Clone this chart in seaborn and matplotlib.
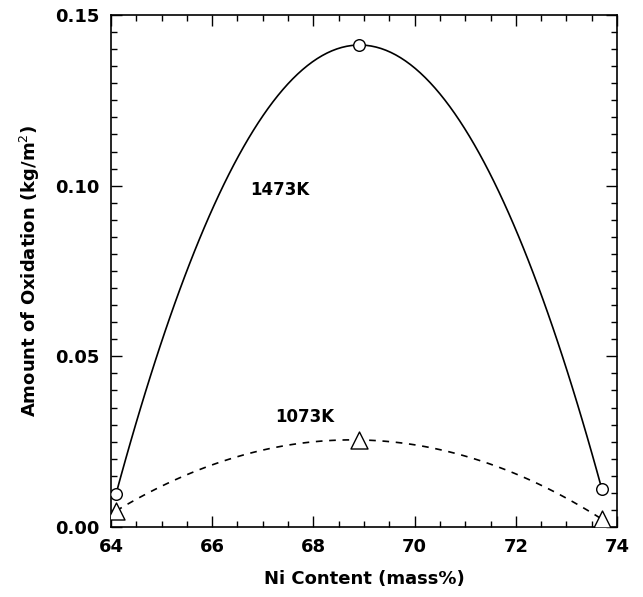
import numpy as np
import pandas as pd
import matplotlib
matplotlib.use("Agg")
import matplotlib.pyplot as plt
import seaborn as sns
from matplotlib.ticker import MultipleLocator, FormatStrFormatter

# data
ni_content = [64.1, 68.9, 73.7]
ox_1473 = [0.0097, 0.1412, 0.0111]
ox_1073 = [0.0047, 0.0255, 0.0023]

df = pd.DataFrame({"ni": ni_content, "k1473": ox_1473, "k1073": ox_1073})

sns.set_style("ticks")
plt.rcParams["font.family"] = ["DejaVu Sans"]
plt.rcParams["text.color"] = "black"
plt.rcParams["axes.labelcolor"] = "black"
plt.rcParams["axes.edgecolor"] = "black"
plt.rcParams["xtick.color"] = "black"
plt.rcParams["ytick.color"] = "black"

fig = plt.figure(figsize=(6.43, 5.97), dpi=100)
ax = fig.add_axes([0.1726, 0.1173, 0.787, 0.8576])

# smooth curves (quadratic through the three points)
sns.regplot(data=df, x="ni", y="k1473", order=2, ci=None, scatter=False, ax=ax,
            line_kws={"color": "black", "linewidth": 1.2})
sns.regplot(data=df, x="ni", y="k1073", order=2, ci=None, scatter=False, ax=ax,
            line_kws={"color": "black", "linewidth": 1.2, "linestyle": (0, (4, 4))})

# markers
sns.scatterplot(data=df, x="ni", y="k1473", marker="o", s=70, facecolor="white",
                edgecolor="black", linewidth=1.0, ax=ax, zorder=5)
sns.scatterplot(data=df, x="ni", y="k1073", marker="^", s=150, facecolor="white",
                edgecolor="black", linewidth=1.0, ax=ax, zorder=5)

ax.text(67.34, 0.0987, "1473K", ha="center", va="center", fontsize=12, fontweight="bold")
ax.text(67.83, 0.0322, "1073K", ha="center", va="center", fontsize=12, fontweight="bold")

ax.set_xlim(64, 74)
ax.set_ylim(0, 0.15)
ax.xaxis.set_major_locator(MultipleLocator(2))
ax.xaxis.set_minor_locator(MultipleLocator(0.5))
ax.yaxis.set_major_locator(MultipleLocator(0.05))
ax.yaxis.set_minor_locator(MultipleLocator(0.005))
ax.yaxis.set_major_formatter(FormatStrFormatter("%.2f"))

ax.tick_params(which="both", direction="in", top=True, right=True, width=1.0)
ax.tick_params(which="major", length=8, labelsize=13, pad=8)
ax.tick_params(which="minor", length=4)
for lab in ax.get_xticklabels() + ax.get_yticklabels():
    lab.set_fontweight("bold")
for sp in ax.spines.values():
    sp.set_linewidth(1.2)
    sp.set_visible(True)

ax.set_xlabel("Ni Content (mass%)", fontsize=13, fontweight="bold", labelpad=10)
ax.set_ylabel("Amount of Oxidation (kg/m$^{2}$)", fontsize=13, fontweight="bold", labelpad=10)

fig.savefig("out.png", dpi=100)
